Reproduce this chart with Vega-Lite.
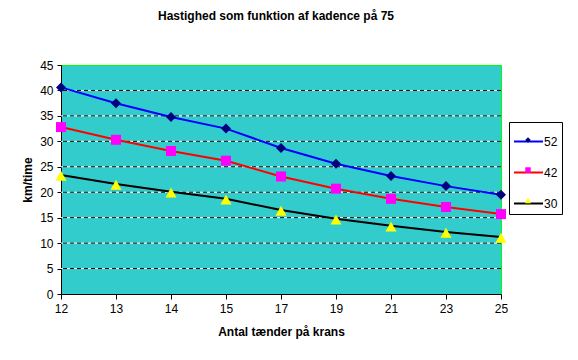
{
  "$schema": "https://vega.github.io/schema/vega-lite/v6.json",
  "autosize": {"type": "none"},
  "width": 440,
  "height": 229,
  "padding": {"left": 61, "top": 65, "right": 77, "bottom": 66},
  "background": "white",
  "title": {
    "text": "Hastighed som funktion af kadence på 75",
    "font": "Liberation Sans",
    "fontSize": 12,
    "fontWeight": "bold",
    "color": "black",
    "anchor": "middle",
    "dx": -5,
    "offset": 36
  },
  "config": {
    "view": {"fill": "#33CCCC", "stroke": "#00FF00", "strokeWidth": 1},
    "axis": {
      "labelFont": "Liberation Sans",
      "labelFontSize": 12,
      "labelColor": "black",
      "labelOverlap": false,
      "titleFont": "Liberation Sans",
      "titleFontSize": 12,
      "titleFontWeight": "bold",
      "titleColor": "black",
      "domainColor": "black",
      "tickColor": "black",
      "grid": false
    },
    "legend": {"labelFont": "Liberation Sans", "labelFontSize": 12, "labelColor": "black"}
  },
  "datasets": {
    "speeds": [
      {"gear": 12, "series": "52", "speed": 40.6},
      {"gear": 13, "series": "52", "speed": 37.5},
      {"gear": 14, "series": "52", "speed": 34.8},
      {"gear": 15, "series": "52", "speed": 32.5},
      {"gear": 17, "series": "52", "speed": 28.7},
      {"gear": 19, "series": "52", "speed": 25.6},
      {"gear": 21, "series": "52", "speed": 23.2},
      {"gear": 23, "series": "52", "speed": 21.2},
      {"gear": 25, "series": "52", "speed": 19.5},
      {"gear": 12, "series": "42", "speed": 32.8},
      {"gear": 13, "series": "42", "speed": 30.3},
      {"gear": 14, "series": "42", "speed": 28.1},
      {"gear": 15, "series": "42", "speed": 26.2},
      {"gear": 17, "series": "42", "speed": 23.1},
      {"gear": 19, "series": "42", "speed": 20.7},
      {"gear": 21, "series": "42", "speed": 18.7},
      {"gear": 23, "series": "42", "speed": 17.1},
      {"gear": 25, "series": "42", "speed": 15.7},
      {"gear": 12, "series": "30", "speed": 23.4},
      {"gear": 13, "series": "30", "speed": 21.6},
      {"gear": 14, "series": "30", "speed": 20.1},
      {"gear": 15, "series": "30", "speed": 18.7},
      {"gear": 17, "series": "30", "speed": 16.5},
      {"gear": 19, "series": "30", "speed": 14.8},
      {"gear": 21, "series": "30", "speed": 13.4},
      {"gear": 23, "series": "30", "speed": 12.2},
      {"gear": 25, "series": "30", "speed": 11.2}
    ],
    "grid": [
      {"g": 5}, {"g": 10}, {"g": 15}, {"g": 20}, {"g": 25}, {"g": 30}, {"g": 35}, {"g": 40}
    ]
  },
  "layer": [
    {
      "data": {"name": "grid"},
      "mark": {"type": "rule", "color": "white", "strokeWidth": 1},
      "encoding": {
        "y": {
          "field": "g", "type": "quantitative",
          "scale": {"domain": [0, 45], "nice": false},
          "axis": {"title": "km/time", "values": [0, 5, 10, 15, 20, 25, 30, 35, 40, 45], "tickCount": 10, "labelOverlap": false, "tickSize": 4, "labelPadding": 4, "titlePadding": 5}
        }
      }
    },
    {
      "data": {"name": "grid"},
      "mark": {"type": "rule", "color": "black", "strokeWidth": 1, "strokeDash": [4, 3]},
      "encoding": {
        "y": {
          "field": "g", "type": "quantitative",
          "axis": {"title": "km/time", "values": [0, 5, 10, 15, 20, 25, 30, 35, 40, 45], "tickCount": 10, "labelOverlap": false, "tickSize": 4, "labelPadding": 4, "titlePadding": 5}
        }
      }
    },
    {
      "data": {"name": "speeds"},
      "mark": {"type": "line", "strokeWidth": 2},
      "encoding": {
        "x": {
          "field": "gear", "type": "ordinal",
          "scale": {"type": "point", "padding": 0},
          "axis": {"title": "Antal tænder på krans", "labelAngle": 0, "tickSize": 5, "labelPadding": 4, "titlePadding": 12}
        },
        "y": {
          "field": "speed", "type": "quantitative",
          "axis": {"title": "km/time", "values": [0, 5, 10, 15, 20, 25, 30, 35, 40, 45], "tickCount": 10, "labelOverlap": false, "tickSize": 4, "labelPadding": 4, "titlePadding": 5}
        },
        "stroke": {
          "field": "series", "type": "nominal",
          "scale": {"domain": ["52", "42", "30"], "range": ["#0000FF", "#FF0000", "#000000"]},
          "legend": {
            "title": null,
            "orient": "none",
            "legendX": 448,
            "legendY": 57,
            "zindex": 0,
            "symbolType": "stroke",
            "symbolSize": 841,
            "symbolStrokeWidth": 2,
            "padding": 4,
            "rowPadding": 9,
            "labelOffset": 0,
            "strokeColor": "black",
            "fillColor": "white"
          }
        }
      }
    },
    {
      "data": {"name": "speeds"},
      "mark": {"type": "point", "filled": true, "size": 100, "strokeWidth": 0, "opacity": 1},
      "encoding": {
        "x": {"field": "gear", "type": "ordinal"},
        "y": {
          "field": "speed", "type": "quantitative",
          "axis": {"title": "km/time", "values": [0, 5, 10, 15, 20, 25, 30, 35, 40, 45], "tickCount": 10, "labelOverlap": false, "tickSize": 4, "labelPadding": 4, "titlePadding": 5}
        },
        "shape": {
          "field": "series", "type": "nominal", "sort": "descending",
          "scale": {"range": ["M0,-1L1,0L0,1L-1,0Z", "M-1,-1H1V1H-1Z", "M0,-0.85L1.1,1.15L-1.1,1.15Z"]},
          "legend": {
            "title": null,
            "orient": "none",
            "legendX": 461,
            "legendY": 69,
            "zindex": 2,
            "symbolSize": 30,
            "symbolStrokeWidth": 0,
            "padding": 0,
            "rowPadding": 18,
            "labelExpr": "''"
          }
        },
        "fill": {
          "field": "series", "type": "nominal", "sort": "descending",
          "scale": {"range": ["#000080", "#FF00FF", "#FFFF00"]},
          "legend": {
            "title": null,
            "orient": "none",
            "legendX": 461,
            "legendY": 69,
            "zindex": 2,
            "symbolSize": 30,
            "symbolStrokeWidth": 0,
            "padding": 0,
            "rowPadding": 18,
            "labelExpr": "''"
          }
        }
      }
    }
  ]
}
